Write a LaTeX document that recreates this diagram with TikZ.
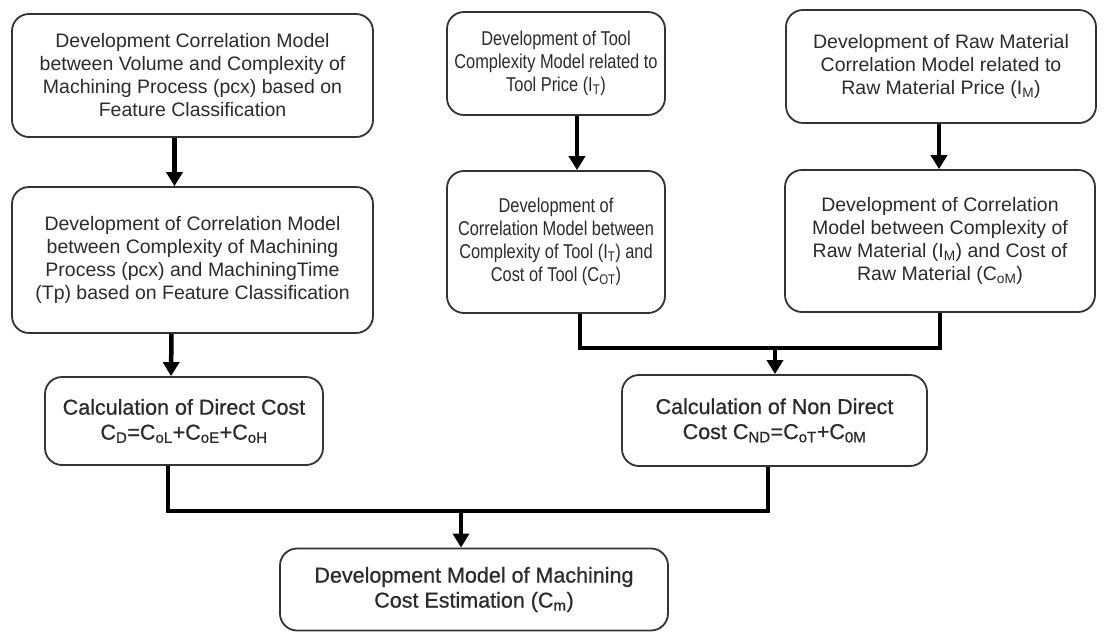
\documentclass[tikz,border=0pt]{standalone}
\usepackage{fontspec}
\setmainfont{Liberation Sans}
\newfontfamily\costnarrow{Liberation Sans}[FakeStretch=0.82]
\newfontfamily\costheavy{Liberation Sans}[FakeBold=0.8]
\usetikzlibrary{arrows.meta,positioning}
\definecolor{costInk}{HTML}{2B2B2B}
\definecolor{costEdge}{HTML}{333333}
\tikzset{
  every picture/.style={font=\fontsize{19.5}{23}\selectfont, text=costInk},
  cost box/.style={draw=costEdge, line width=1.8pt, rounded corners=17pt,
    fill=white, align=center, inner sep=0pt},
  cost narrow/.style={cost box, font=\costnarrow\fontsize{20}{23}\selectfont},
  cost calc/.style={cost box, font=\costheavy\fontsize{21.5}{25}\selectfont},
  cost arrow/.style={-{Triangle[length=14pt,width=16pt]},
    draw=black, line width=4.5pt},
  cost line/.style={draw=black, line width=4.5pt, line join=miter}
}

\begin{document}
\begin{tikzpicture}[x=1pt,y=-1pt]
  \useasboundingbox (0,0) rectangle (1104,633);
  % left column
  \node[cost box,minimum width=361pt,minimum height=123pt] (volCx) at (192.5,75.5)
    {Development Correlation Model\\between Volume and Complexity of\\Machining Process (pcx) based on\\Feature Classification};
  \node[cost box,minimum width=361pt,minimum height=146pt] (cxTime) at (192.5,260)
    {Development of Correlation Model\\between Complexity of Machining\\Process (pcx) and MachiningTime\\(Tp) based on Feature Classification};
  \node[cost calc,minimum width=278pt,minimum height=88pt] (direct) at (184,421)
    {Calculation of Direct Cost\\C\textsubscript{D}=C\textsubscript{oL}+C\textsubscript{oE}+C\textsubscript{oH}};
  % tool column
  \node[cost narrow,minimum width=218pt,minimum height=103pt] (toolPrice) at (556,63.5)
    {Development of Tool\\Complexity Model related to\\Tool Price (I\textsubscript{T})};
  \node[cost narrow,minimum width=218pt,minimum height=142pt] (toolCost) at (556,242)
    {Development of\\Correlation Model between\\Complexity of Tool (I\textsubscript{T}) and\\Cost of Tool (C\textsubscript{OT})};
  % raw material column
  \node[cost box,minimum width=310pt,minimum height=113pt] (rawPrice) at (941,66.5)
    {Development of Raw Material\\Correlation Model related to\\Raw Material Price (I\textsubscript{M})};
  \node[cost box,minimum width=310pt,minimum height=142pt] (rawCost) at (940,241)
    {Development of Correlation\\Model between Complexity of\\Raw Material (I\textsubscript{M}) and Cost of\\Raw Material (C\textsubscript{oM})};
  \node[cost calc,minimum width=305pt,minimum height=91pt] (nonDirect) at (774.5,420.5)
    {Calculation of Non Direct\\Cost C\textsubscript{ND}=C\textsubscript{oT}+C\textsubscript{0M}};
  % result
  \node[cost calc,minimum width=388pt,minimum height=82pt] (machCost) at (474,589.5)
    {Development Model of Machining\\Cost Estimation (C\textsubscript{m})};

  \coordinate (toolJoin) at (775,348);
  \coordinate (costJoin) at (461,511);

  \draw[cost arrow] ([xshift=-18pt]volCx.south) -- ([xshift=-18pt]cxTime.north);
  \draw[cost arrow] ([xshift=-21pt]cxTime.south) -- (direct.north -| {(171,0)});
  \draw[cost arrow] ([xshift=21pt]toolPrice.south) -- ([xshift=21pt]toolCost.north);
  \draw[cost arrow] ([xshift=-2pt]rawPrice.south) -- ([xshift=-1pt]rawCost.north);
  \draw[cost line] ([xshift=24pt]toolCost.south) |- (toolJoin) -| (rawCost.south);
  \draw[cost arrow] (toolJoin) -- (nonDirect.north -| toolJoin);
  \draw[cost line] ([xshift=-16pt]direct.south) |- (costJoin) -| ([xshift=-6.5pt]nonDirect.south);
  \draw[cost arrow] (costJoin) -- (machCost.north -| costJoin);
\end{tikzpicture}
\end{document}
